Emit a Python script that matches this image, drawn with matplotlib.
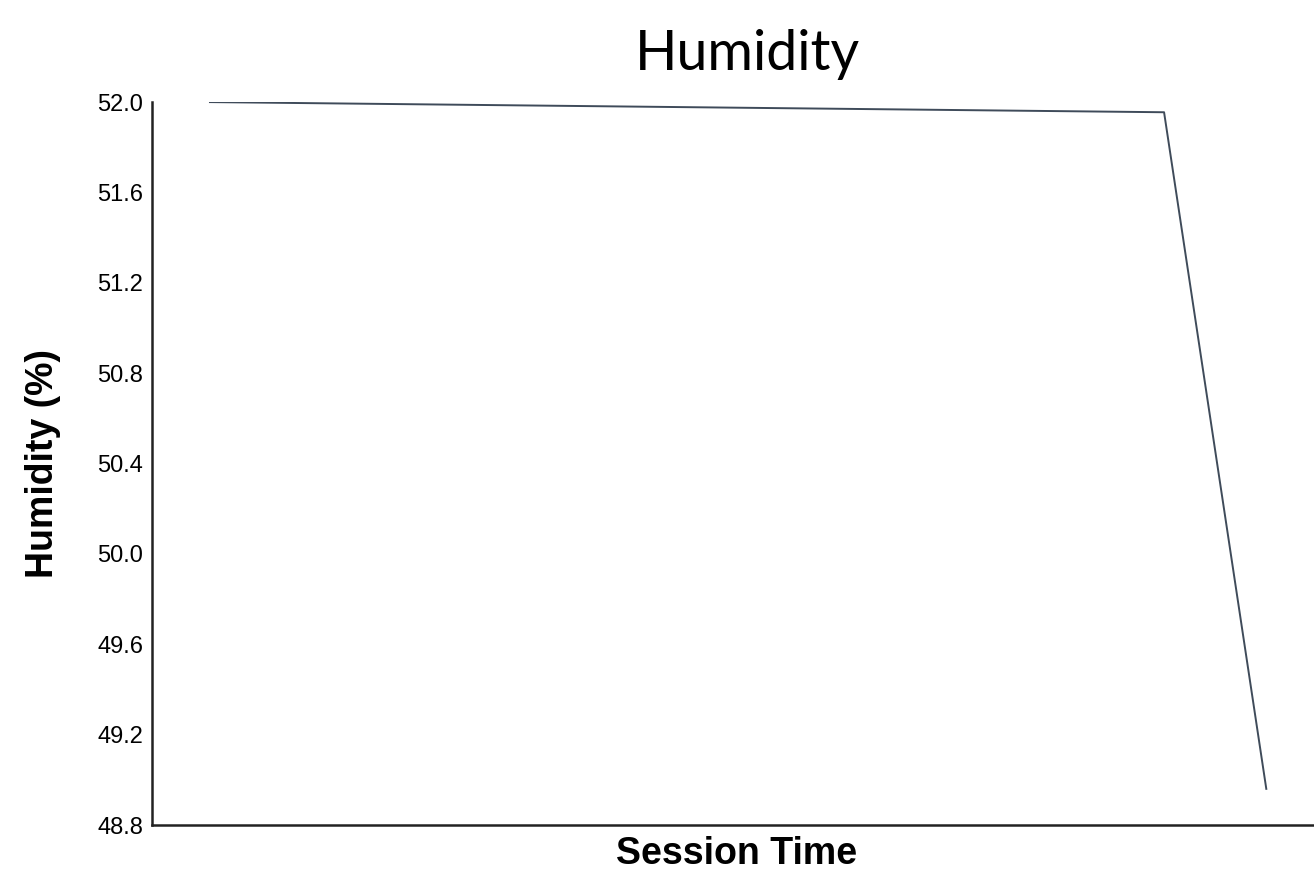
import numpy as np
import matplotlib.pyplot as plt

# session time (arbitrary units) and humidity readings
session_time = [0, 28, 31]
humidity = [52.0, 51.955, 48.96]
y_ticks = [48.8, 49.2, 49.6, 50.0, 50.4, 50.8, 51.2, 51.6, 52.0]

fig = plt.figure(figsize=(13.14, 8.8), dpi=100)
ax = fig.add_axes([0.1157, 0.0625, 0.8843, 0.8215])

ax.plot(session_time, humidity, color="#3f4b5a", linewidth=1.4)

ax.set_xlim(-1.7, 32.4)
ax.set_ylim(48.8, 52.0)
ax.set_xticks([])
ax.set_yticks(y_ticks)
ax.set_yticklabels([f"{v:.1f}" for v in y_ticks], family="Liberation Sans", fontsize=17)
ax.tick_params(axis="y", length=0, pad=6.5)

for side in ["top", "right"]:
    ax.spines[side].set_visible(False)
for side in ["left", "bottom"]:
    ax.spines[side].set_linewidth(1.8)
    ax.spines[side].set_color("#222222")

ax.set_title("Humidity", family="Lato", fontsize=40, pad=23, x=0.512)
ax.set_xlabel("Session Time", family="Liberation Sans", fontweight="bold", fontsize=27, labelpad=8, x=0.503)
ax.set_ylabel("Humidity (%)", family="Liberation Sans", fontweight="bold", fontsize=27, labelpad=26)

fig.savefig("out.png", dpi=100)
